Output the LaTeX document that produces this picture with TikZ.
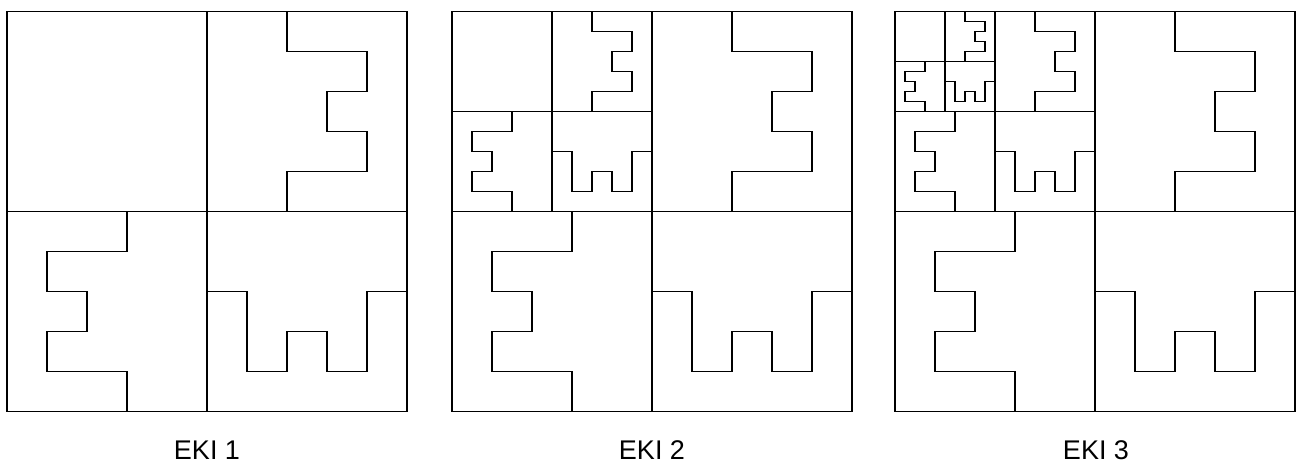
\documentclass[tikz,border=0pt]{standalone}
\usepackage{fontspec}
\setmainfont{Liberation Sans}
\begin{document}
\begin{tikzpicture}[x=1pt,y=1pt,line width=1.7pt,line join=miter,line cap=rect,
  lbl/.style={font=\fontsize{27}{30}\selectfont,anchor=base,inner sep=0pt}]
\useasboundingbox (0,0) rectangle (1296,-464);
\fill[white] (0,0) rectangle (1296,-464);
% one level of the pattern in a 10x10 square (top-left origin, y down)
\newcommand\ekilevel{%
  \draw (0,-5)--(10,-5) (5,0)--(5,-10);
  \draw (7,0)--(7,-1)--(9,-1)--(9,-2)--(8,-2)--(8,-3)--(9,-3)--(9,-4)--(7,-4)--(7,-5);
  \draw (3,-5)--(3,-6)--(1,-6)--(1,-7)--(2,-7)--(2,-8)--(1,-8)--(1,-9)--(3,-9)--(3,-10);
  \draw (5,-7)--(6,-7)--(6,-9)--(7,-9)--(7,-8)--(8,-8)--(8,-9)--(9,-9)--(9,-7)--(10,-7);
}
% Panel 1
\begin{scope}[shift={(7,-11.5)},x=40pt,y=40pt]
  \draw (0,0) rectangle (10,-10);
  \ekilevel
\end{scope}
% Panel 2
\begin{scope}[shift={(452,-11.5)},x=40pt,y=40pt]
  \draw (0,0) rectangle (10,-10);
  \ekilevel
  \begin{scope}[x=20pt,y=20pt]\ekilevel\end{scope}
\end{scope}
% Panel 3
\begin{scope}[shift={(895,-11.5)},x=40pt,y=40pt]
  \draw (0,0) rectangle (10,-10);
  \ekilevel
  \begin{scope}[x=20pt,y=20pt]\ekilevel
    \begin{scope}[x=10pt,y=10pt]\ekilevel\end{scope}
  \end{scope}
\end{scope}
\node[lbl] (l1) at (207,-459.5) {EKI 1};
\node[lbl] (l2) at (652,-459.5) {EKI 2};
\node[lbl] (l3) at (1096,-459.5) {EKI 3};
\end{tikzpicture}
\end{document}
